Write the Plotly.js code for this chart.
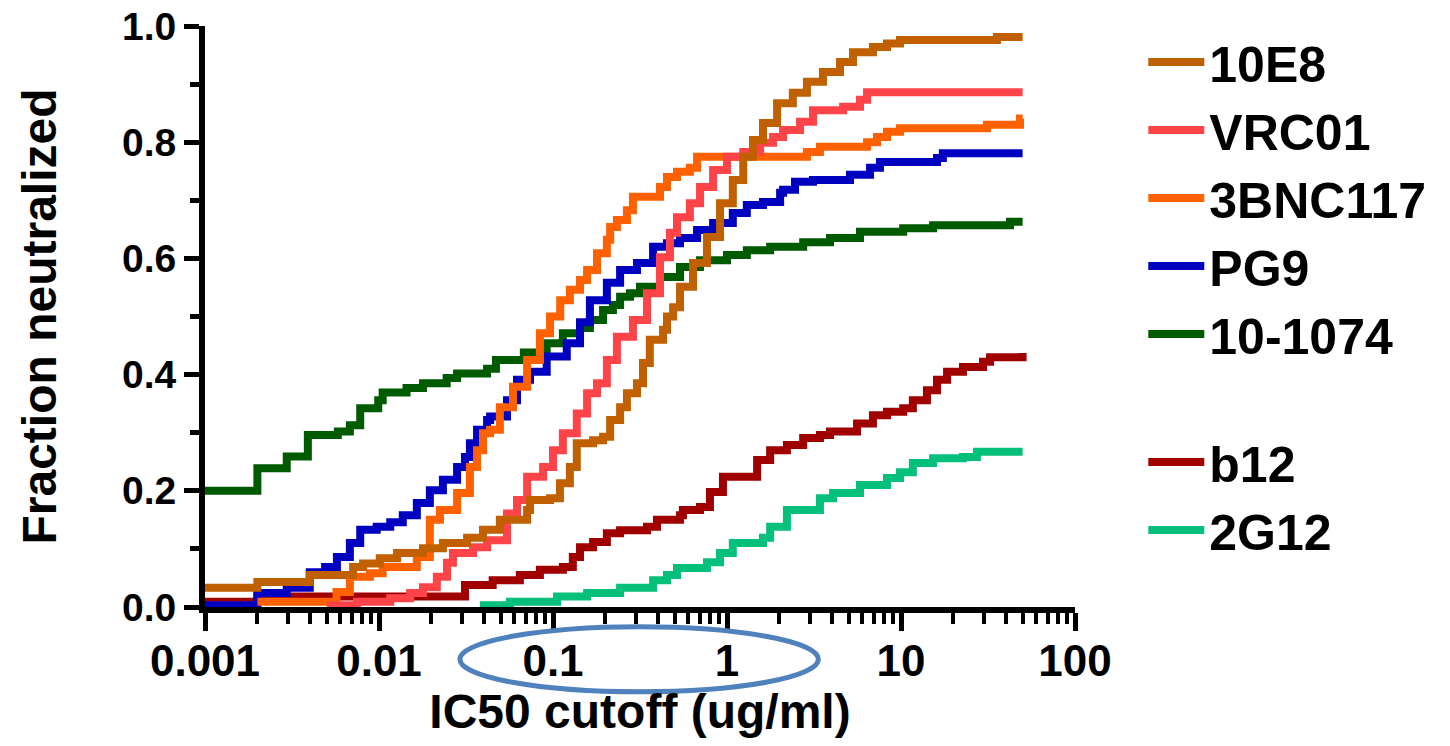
<!DOCTYPE html>
<html><head><meta charset="utf-8">
<script src="https://cdn.plot.ly/plotly-3.0.1.min.js"></script>
<style>html,body{margin:0;padding:0;background:#fff}#chart{width:1450px;height:746px}</style>
</head><body><div id="chart"></div>
<script>
// ---- data ----
const seriesNames = ["10E8", "VRC01", "3BNC117", "PG9", "10-1074", "b12", "2G12"];

const x_10E8 = [0.001, 0.002, 0.004, 0.0071, 0.0081, 0.0101, 0.0127, 0.0179, 0.0233, 0.0321, 0.0396, 0.0495, 0.071, 0.0738, 0.0962, 0.1096, 0.125, 0.137, 0.170, 0.194, 0.213, 0.243, 0.266, 0.304, 0.329, 0.36, 0.429, 0.452, 0.49, 0.537, 0.638, 0.767, 0.912, 1.08, 1.24, 1.41, 1.61, 1.94, 2.39, 2.88, 3.56, 4.46, 5.30, 6.90, 8.31, 9.87, 35.6, 50];
const y_10E8 = [0.033, 0.043, 0.055, 0.069, 0.075, 0.084, 0.093, 0.101, 0.110, 0.119, 0.133, 0.150, 0.167, 0.184, 0.187, 0.213, 0.241, 0.282, 0.287, 0.293, 0.322, 0.344, 0.368, 0.385, 0.420, 0.460, 0.477, 0.500, 0.516, 0.551, 0.592, 0.637, 0.695, 0.735, 0.775, 0.804, 0.833, 0.867, 0.885, 0.904, 0.921, 0.938, 0.955, 0.964, 0.970, 0.976, 0.981, 0.981];

const x_VRC01 = [0.00502, 0.00748, 0.0116, 0.0151, 0.0179, 0.0215, 0.0246, 0.0266, 0.0347, 0.0418, 0.0544, 0.0621, 0.071, 0.0877, 0.1, 0.114, 0.137, 0.157, 0.179, 0.204, 0.233, 0.288, 0.347, 0.412, 0.47, 0.516, 0.612, 0.70, 0.832, 1.0, 1.24, 1.55, 1.84, 2.10, 2.63, 3.12, 4.65, 5.81, 6.38, 50];
const y_VRC01 = [0.003, 0.009, 0.015, 0.024, 0.034, 0.052, 0.076, 0.093, 0.103, 0.115, 0.161, 0.184, 0.224, 0.241, 0.270, 0.299, 0.333, 0.368, 0.385, 0.425, 0.465, 0.494, 0.540, 0.602, 0.644, 0.671, 0.695, 0.723, 0.752, 0.775, 0.783, 0.799, 0.809, 0.821, 0.835, 0.855, 0.861, 0.873, 0.886, 0.886];

const x_3BNC117 = [0.002, 0.0057, 0.0068, 0.00887, 0.0105, 0.0165, 0.0196, 0.0224, 0.0281, 0.0333, 0.0366, 0.0396, 0.0435, 0.0495, 0.0589, 0.071, 0.0841, 0.0962, 0.11, 0.125, 0.143, 0.157, 0.179, 0.204, 0.213, 0.233, 0.266, 0.288, 0.412, 0.452, 0.516, 0.612, 0.673, 2.88, 3.42, 6.38, 7.28, 8.31, 9.87, 31.2, 48.3, 50];
const y_3BNC117 = [0.009, 0.026, 0.052, 0.058, 0.069, 0.086, 0.150, 0.167, 0.196, 0.241, 0.270, 0.299, 0.305, 0.344, 0.379, 0.425, 0.471, 0.500, 0.528, 0.546, 0.563, 0.580, 0.609, 0.632, 0.654, 0.666, 0.683, 0.706, 0.723, 0.740, 0.749, 0.756, 0.775, 0.783, 0.792, 0.800, 0.809, 0.818, 0.824, 0.830, 0.841, 0.841];

const x_PG9 = [0.001, 0.002, 0.00295, 0.004, 0.0049, 0.00573, 0.0068, 0.0078, 0.0097, 0.0116, 0.0137, 0.0165, 0.0196, 0.0233, 0.0281, 0.0312, 0.0333, 0.0366, 0.0418, 0.0435, 0.0544, 0.0621, 0.0738, 0.092, 0.120, 0.143, 0.163, 0.204, 0.243, 0.304, 0.376, 0.452, 0.537, 0.673, 0.832, 1.08, 1.30, 1.61, 2.02, 2.10, 2.46, 3.12, 5.09, 6.64, 7.57, 16.1, 17.4, 50];
const y_PG9 = [0.003, 0.024, 0.033, 0.060, 0.069, 0.086, 0.110, 0.133, 0.138, 0.146, 0.158, 0.179, 0.201, 0.219, 0.241, 0.258, 0.282, 0.305, 0.322, 0.328, 0.356, 0.391, 0.405, 0.431, 0.454, 0.490, 0.528, 0.558, 0.580, 0.592, 0.620, 0.626, 0.635, 0.649, 0.661, 0.678, 0.692, 0.697, 0.713, 0.718, 0.732, 0.735, 0.744, 0.756, 0.766, 0.773, 0.781, 0.781];

const x_10_1074 = [0.001, 0.002, 0.00295, 0.0039, 0.0058, 0.0068, 0.0078, 0.0099, 0.0105, 0.0144, 0.0179, 0.0245, 0.0281, 0.0418, 0.047, 0.068, 0.092, 0.114, 0.143, 0.163, 0.194, 0.221, 0.243, 0.277, 0.316, 0.412, 0.537, 0.70, 1.0, 1.30, 1.77, 2.74, 3.91, 5.81, 10.3, 15.3, 42.3, 50];
const y_10_1074 = [0.200, 0.239, 0.259, 0.296, 0.302, 0.313, 0.342, 0.356, 0.369, 0.377, 0.385, 0.394, 0.402, 0.410, 0.425, 0.438, 0.454, 0.471, 0.480, 0.494, 0.511, 0.520, 0.534, 0.540, 0.551, 0.568, 0.585, 0.597, 0.606, 0.614, 0.620, 0.628, 0.635, 0.646, 0.652, 0.657, 0.663, 0.663];

const x_b12 = [0.001, 0.002, 0.0312, 0.045, 0.0645, 0.0841, 0.114, 0.13, 0.143, 0.170, 0.204, 0.243, 0.347, 0.396, 0.537, 0.558, 0.70, 0.798, 0.948, 1.49, 1.77, 2.21, 2.74, 3.42, 3.91, 5.59, 6.90, 8.31, 10.3, 11.7, 14.1, 16.1, 18.4, 22.7, 29.6, 32.5, 50];
const y_b12 = [0.009, 0.018, 0.038, 0.046, 0.055, 0.064, 0.069, 0.086, 0.103, 0.112, 0.127, 0.132, 0.138, 0.150, 0.158, 0.167, 0.172, 0.198, 0.224, 0.253, 0.270, 0.279, 0.291, 0.296, 0.302, 0.316, 0.330, 0.336, 0.342, 0.356, 0.373, 0.391, 0.405, 0.413, 0.422, 0.430, 0.437];

const x_2G12 = [0.038, 0.0566, 0.1055, 0.157, 0.243, 0.376, 0.452, 0.516, 0.767, 0.912, 1.08, 1.61, 1.77, 2.21, 3.42, 4.07, 5.81, 8.31, 9.87, 11.7, 15.3, 22.7, 27.3, 50];
const y_2G12 = [0.003, 0.009, 0.018, 0.024, 0.033, 0.046, 0.055, 0.067, 0.077, 0.093, 0.110, 0.119, 0.138, 0.167, 0.187, 0.196, 0.210, 0.222, 0.232, 0.248, 0.256, 0.258, 0.267, 0.267];

const xTickVals = [0.001, 0.01, 0.1, 1, 10, 100];
const xTickText = ["0.001", "0.01", "0.1", "1", "10", "100"];
const yTickVals = [0, 0.2, 0.4, 0.6, 0.8, 1.0];
const yTickText = ["0.0", "0.2", "0.4", "0.6", "0.8", "1.0"];

// ---- styling ----
const colors = {
  "10E8": "#C06000", "VRC01": "#FF4449", "3BNC117": "#FF6100", "PG9": "#0000C0",
  "10-1074": "#005A00", "b12": "#A00000", "2G12": "#05C07A"
};
const dataMap = {
  "10E8": [x_10E8, y_10E8], "VRC01": [x_VRC01, y_VRC01], "3BNC117": [x_3BNC117, y_3BNC117],
  "PG9": [x_PG9, y_PG9], "10-1074": [x_10_1074, y_10_1074], "b12": [x_b12, y_b12], "2G12": [x_2G12, y_2G12]
};
const drawOrder = ["2G12", "b12", "10-1074", "PG9", "3BNC117", "VRC01", "10E8"];

const traces = drawOrder.map(n => ({
  type: "scatter", mode: "lines", name: n,
  x: dataMap[n][0], y: dataMap[n][1],
  line: {shape: "hv", width: 8, color: colors[n]},
  legendrank: seriesNames.indexOf(n) + 1,
  legendgroup: seriesNames.indexOf(n) < 5 ? "g1" : "g2",
  hoverinfo: "x+y+name"
}));

const xMinor = [];
for (let e = -3; e < 2; e++) for (let d = 2; d <= 9; d++) xMinor.push(d * Math.pow(10, e));

const FONT = "Liberation Sans, Arial, sans-serif";
const layout = {
  width: 1450, height: 746,
  margin: {l: 205, r: 375, t: 26, b: 139},
  paper_bgcolor: "#fff", plot_bgcolor: "#fff",
  font: {family: FONT, color: "#000", weight: 700},
  showlegend: true,
  xaxis: {
    type: "log", range: [-3, 2],
    tickmode: "array", tickvals: xTickVals, ticktext: xTickText,
    ticks: "outside", ticklen: 18, tickwidth: 5, tickcolor: "#000",
    minor: {ticks: "outside", ticklen: 11, tickwidth: 4, tickcolor: "#000", tickvals: xMinor, showgrid: false},
    showline: true, linewidth: 6, linecolor: "#000",
    showgrid: false, zeroline: false,
    tickfont: {size: 44, family: FONT, weight: 700, color: "#000"},
    ticklabelstandoff: -8,
    title: {text: "IC50 cutoff (ug/ml)", font: {size: 48, family: FONT, weight: 700, color: "#000"}, standoff: 8}
  },
  yaxis: {
    range: [0, 1],
    tickmode: "array", tickvals: yTickVals, ticktext: yTickText,
    ticks: "outside", ticklen: 15, tickwidth: 5, tickcolor: "#000",
    minor: {ticks: "outside", ticklen: 9, tickwidth: 5, tickcolor: "#000", dtick: 0.1, showgrid: false},
    showline: true, linewidth: 6, linecolor: "#000",
    showgrid: false, zeroline: false,
    tickfont: {size: 39, family: FONT, weight: 700, color: "#000"},
    title: {text: "Fraction neutralized", font: {size: 48, family: FONT, weight: 700, color: "#000"}, standoff: 52}
  },
  legend: {
    x: 1.0785, xanchor: "left", y: 1.005, yanchor: "top",
    traceorder: "grouped", tracegroupgap: 60,
    itemwidth: 56, maxheight: 720,
    font: {size: 50, family: FONT, weight: 700, color: "#000"},
    bgcolor: "rgba(0,0,0,0)"
  },
  shapes: [{
    type: "circle", xref: "paper", yref: "paper", layer: "above",
    x0: 0.293, x1: 0.705, y0: -0.146, y1: -0.034,
    line: {color: "#4F81BD", width: 5}, fillcolor: "rgba(0,0,0,0)"
  }]
};

Plotly.newPlot("chart", traces, layout, {displayModeBar: false});
</script>
</body></html>
